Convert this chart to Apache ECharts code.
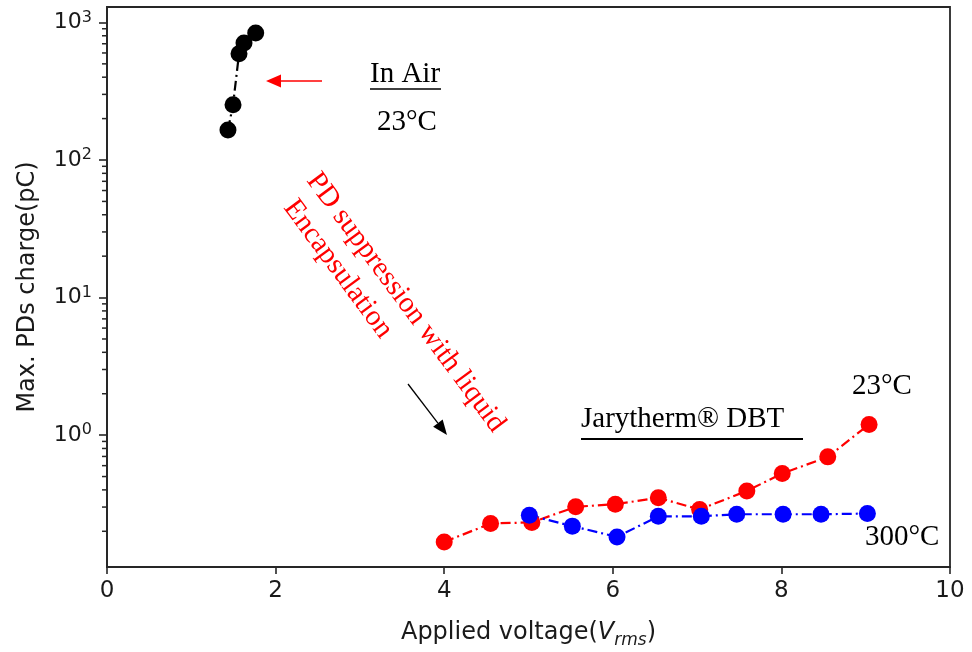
<!DOCTYPE html>
<html>
<head>
<meta charset="utf-8">
<script src="https://cdn.jsdelivr.net/npm/echarts@6/dist/echarts.min.js"></script>
<style>html,body{margin:0;padding:0;background:#fff;}#c{width:972px;height:652px;}</style>
</head>
<body>
<div id="c"></div>
<script>
// ---- data ----
const airV = [1.435, 1.495, 1.566, 1.625, 1.764];
const airQ = [165, 252, 592, 708, 837];

const dbt23V = [4.00, 4.55, 5.04, 5.56, 6.03, 6.54, 7.03, 7.59, 8.01, 8.55, 9.04];
const dbt23Q = [0.167, 0.228, 0.232, 0.301, 0.315, 0.350, 0.288, 0.393, 0.526, 0.695, 1.197];

const dbt300V = [5.01, 5.52, 6.05, 6.54, 7.05, 7.47, 8.02, 8.47, 9.02];
const dbt300Q = [0.262, 0.218, 0.182, 0.257, 0.257, 0.266, 0.266, 0.266, 0.269];

const xTicks = [0, 2, 4, 6, 8, 10];
const yMinorTicks = [0.2,0.3,0.4,0.5,0.6,0.7,0.8,0.9, 2,3,4,5,6,7,8,9, 20,30,40,50,60,70,80,90, 200,300,400,500,600,700,800,900];

const pair = (xs, ys) => xs.map((x, i) => [x, ys[i]]);

const axisColor = '#262626';
const serif = '"Liberation Serif", "Times New Roman", serif';
const sans = '"DejaVu Sans", sans-serif';
const dashDot = [10, 4, 2, 4];

const chart = echarts.init(document.getElementById('c'), null, {renderer: 'canvas'});

function arrow(x1, y1, x2, y2, color, headLen, headHalf, lw) {
  const dx = x2 - x1, dy = y2 - y1, L = Math.hypot(dx, dy);
  const ux = dx / L, uy = dy / L;
  const bx = x2 - ux * headLen, by = y2 - uy * headLen;
  const px = -uy * headHalf, py = ux * headHalf;
  return [
    {type: 'line', shape: {x1: x1, y1: y1, x2: bx, y2: by}, style: {stroke: color, lineWidth: lw}, z: 100},
    {type: 'polygon', shape: {points: [[x2, y2], [bx + px, by + py], [bx - px, by - py]]}, style: {fill: color}, z: 100}
  ];
}

function txt(text, x, y, color, rot) {
  return {
    type: 'text', x: x, y: y, rotation: rot || 0, z: 100,
    style: {text: text, font: '29px ' + serif, fill: color,
            align: 'left', verticalAlign: 'middle', textAlign: 'left', textVerticalAlign: 'middle'}
  };
}

const rot = -53.5 * Math.PI / 180;

const option = {
  animation: false,
  backgroundColor: '#fff',
  grid: {left: 107, right: 22, top: 7, bottom: 85, containLabel: false, outerBoundsMode: 'none',
         show: true, borderColor: axisColor, borderWidth: 1.8, backgroundColor: 'transparent'},
  xAxis: {
    type: 'value', min: 0, max: 10, interval: 2,
    axisLine: {show: true, lineStyle: {color: axisColor, width: 1.8}},
    axisTick: {show: true, inside: false, length: 7, lineStyle: {color: axisColor, width: 1.6}},
    splitLine: {show: false},
    axisLabel: {fontFamily: sans, fontSize: 23, color: '#1a1a1a', margin: 13},
    name: 'Applied voltage({it|V}{sub|rms})',
    nameLocation: 'middle', nameGap: 50,
    nameTextStyle: {
      fontFamily: sans, fontSize: 24, color: '#1a1a1a', lineHeight: 32,
      rich: {
        it: {fontFamily: sans, fontSize: 24, fontStyle: 'italic', color: '#1a1a1a', lineHeight: 32},
        sub: {fontFamily: sans, fontSize: 17, fontStyle: 'italic', color: '#1a1a1a', lineHeight: 17, verticalAlign: 'bottom'}
      }
    }
  },
  yAxis: {
    type: 'log', logBase: 10, min: 0.110, max: 1295,
    axisLine: {show: true, lineStyle: {color: axisColor, width: 1.8}},
    axisTick: {show: true, inside: false, length: 8, lineStyle: {color: axisColor, width: 1.6}},
    minorTick: {show: false},
    splitLine: {show: false},
    axisLabel: {
      showMinLabel: false, showMaxLabel: false,
      fontFamily: sans, fontSize: 22, color: '#1a1a1a', lineHeight: 26, margin: 15,
      formatter: function (v) {
        const l = Math.log10(v), e = Math.round(l);
        if (Math.abs(l - e) > 1e-6) return '';
        return '10{sup|' + e + '}';
      },
      rich: {sup: {fontFamily: sans, fontSize: 16, lineHeight: 16, verticalAlign: 'top', color: '#1a1a1a'}}
    },
    name: 'Max. PDs charge(pC)',
    nameLocation: 'middle', nameGap: 67,
    nameTextStyle: {fontFamily: sans, fontSize: 24, color: '#1a1a1a'}
  },
  series: [
    {
      type: 'custom', name: 'minorTicks', silent: true, clip: false, z: 5,
      encode: {x: 0, y: 1},
      data: yMinorTicks.map(v => [0, v]),
      renderItem: function (params, api) {
        const p = api.coord([0, api.value(1)]);
        return {type: 'line', shape: {x1: p[0] - 5, y1: p[1], x2: p[0], y2: p[1]},
                style: {stroke: axisColor, lineWidth: 1.5}};
      }
    },
    {
      type: 'line', name: 'In Air 23°C', data: pair(airV, airQ),
      symbol: 'circle', symbolSize: 17, clip: false,
      itemStyle: {color: '#000', borderWidth: 0},
      lineStyle: {color: '#000', width: 2.2, type: dashDot}
    },
    {
      type: 'line', name: 'DBT 23°C', data: pair(dbt23V, dbt23Q),
      symbol: 'circle', symbolSize: 17, clip: false,
      itemStyle: {color: '#ff0000', borderWidth: 0},
      lineStyle: {color: '#ff0000', width: 2.2, type: dashDot}
    },
    {
      type: 'line', name: 'DBT 300°C', data: pair(dbt300V, dbt300Q),
      symbol: 'circle', symbolSize: 17, clip: false,
      itemStyle: {color: '#0000ff', borderWidth: 0},
      lineStyle: {color: '#0000ff', width: 2.2, type: dashDot}
    }
  ],
  graphic: [].concat(
    arrow(322, 81, 266, 81, '#ff0000', 15, 6.5, 1.5),
    arrow(408, 384, 447, 435, '#000', 15, 6, 1.3),
    [
      txt('In Air', 370, 74, '#000'),
      {type: 'line', shape: {x1: 370, y1: 89, x2: 441, y2: 89}, style: {stroke: '#000', lineWidth: 1.5}, z: 100},
      txt('23°C', 377, 122, '#000'),
      txt('Jarytherm® DBT', 581, 419, '#000'),
      {type: 'line', shape: {x1: 581, y1: 439, x2: 803, y2: 439}, style: {stroke: '#000', lineWidth: 2}, z: 100},
      txt('23°C', 852, 386, '#000'),
      txt('300°C', 865, 537, '#000'),
      txt('PD suppression with liquid', 312, 176, '#ff0000', rot),
      txt('Encapsulation', 289, 203, '#ff0000', rot)
    ]
  )
};
chart.setOption(option);
</script>
</body>
</html>
